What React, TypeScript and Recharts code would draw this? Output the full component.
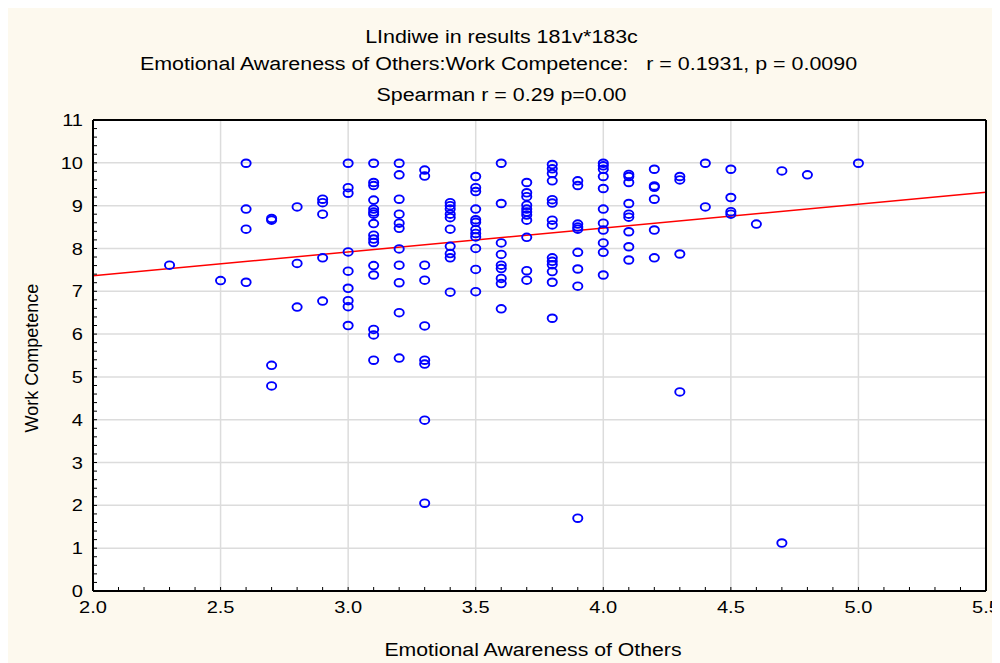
import React from "react";
import { ScatterChart, Scatter, XAxis, YAxis, CartesianGrid, ReferenceLine } from "recharts";

// x values (Emotional Awareness of Others) and the Work Competence scores seen at each
const awarenessLevels = [2.3, 2.5, 2.6, 2.7, 2.8, 2.9, 3.0, 3.1, 3.2, 3.3, 3.4, 3.5, 3.6, 3.7, 3.8, 3.9, 4.0, 4.1, 4.2, 4.3, 4.4, 4.5, 4.6, 4.7, 4.8, 5.0];
const competenceScores = [
  [7.61],
  [7.25],
  [9.99, 8.92, 8.45, 7.21],
  [8.7, 8.66, 5.27, 4.79],
  [8.97, 7.65, 6.63],
  [9.15, 9.07, 8.8, 7.78, 6.77],
  [9.99, 9.42, 9.29, 7.92, 7.47, 7.07, 6.78, 6.64, 6.2],
  [9.99, 9.54, 9.47, 9.13, 8.92, 8.85, 8.8, 8.58, 8.31, 8.22, 8.14, 7.6, 7.38, 6.11, 5.98, 5.39],
  [9.99, 9.72, 9.15, 8.8, 8.59, 8.47, 7.99, 7.61, 7.2, 6.5, 5.44],
  [9.83, 9.69, 7.61, 7.26, 6.19, 5.39, 5.3, 3.99, 2.05],
  [9.07, 9.0, 8.92, 8.8, 8.72, 8.45, 8.05, 7.88, 7.78, 6.98],
  [9.68, 9.42, 9.33, 8.92, 8.67, 8.61, 8.44, 8.35, 8.27, 8.0, 7.51, 6.99],
  [9.99, 9.05, 8.13, 7.86, 7.61, 7.53, 7.3, 7.18, 6.59],
  [9.54, 9.3, 9.21, 9.01, 8.92, 8.85, 8.78, 8.66, 8.26, 7.48, 7.26],
  [9.96, 9.86, 9.75, 9.58, 9.14, 9.06, 8.66, 8.55, 7.78, 7.7, 7.62, 7.46, 7.21, 6.37],
  [9.58, 9.47, 8.57, 8.5, 8.45, 7.91, 7.52, 7.12, 1.7],
  [9.99, 9.93, 9.85, 9.68, 9.4, 8.92, 8.59, 8.43, 8.13, 7.91, 7.38],
  [9.73, 9.68, 9.54, 9.05, 8.8, 8.73, 8.39, 8.04, 7.73],
  [9.85, 9.46, 9.43, 9.15, 8.43, 7.78],
  [9.68, 9.6, 7.87, 4.65],
  [9.99, 8.97],
  [9.85, 9.19, 8.86, 8.8],
  [8.57],
  [9.81, 1.12],
  [9.72],
  [9.99],
];

const xTicks = [2.0, 2.5, 3.0, 3.5, 4.0, 4.5, 5.0, 5.5];
const yTicks = [0, 1, 2, 3, 4, 5, 6, 7, 8, 9, 10, 11];

// linear fit drawn across the whole x range
const fitIntercept = 6.244;
const fitSlope = 0.558;

const points = awarenessLevels.flatMap((x, i) => competenceScores[i].map((y) => ({ x, y })));

// minor tick marks: every 0.1 on x, every 0.2 on y
const minorX: number[] = [];
for (let i = 0; i <= 35; i++) minorX.push(Math.round((2 + i * 0.1) * 10) / 10);
const minorY: number[] = [];
for (let i = 0; i <= 55; i++) minorY.push(Math.round(i * 0.2 * 10) / 10);

const isMajor = (list: number[], v: number) => list.some((t) => Math.abs(t - v) < 1e-6);

const font = "'Liberation Sans', Arial, sans-serif";
const cream = "#fdf9ee";
const gridColor = "#dcdcdc";
const border = { stroke: "#000", strokeWidth: 2 };

const XTickLabel = ({ x, y, payload }: any) => {
  if (!isMajor(xTicks, payload.value)) return <g />;
  return (
    <text transform={`translate(${x},${y}) scale(1.18,1)`} textAnchor="middle" dy="0.71em" fontSize={17} fontFamily={font} fill="#000">
      {payload.value.toFixed(1)}
    </text>
  );
};

const YTickLabel = ({ x, y, payload }: any) => {
  if (!isMajor(yTicks, payload.value)) return <g />;
  return (
    <text transform={`translate(${x},${y}) scale(1.18,1)`} textAnchor="end" dy="0.36em" fontSize={17} fontFamily={font} fill="#000">
      {payload.value}
    </text>
  );
};

const Ring = (p: any) => (
  <ellipse cx={p.cx} cy={p.cy} rx={4.6} ry={3.8} fill="none" stroke="#0000ff" strokeWidth={1.9} />
);

const titleStyle: React.CSSProperties = {
  position: "absolute",
  left: 0,
  width: "100%",
  textAlign: "center",
  fontFamily: font,
  fontSize: 18,
  lineHeight: "18px",
  transform: "scaleX(1.19)",
  color: "#000",
  whiteSpace: "pre",
};

export default function App() {
  return (
    <div style={{ position: "relative", width: 997, height: 655, marginLeft: -5, background: cream }}>
      <style>{".recharts-surface{overflow:visible}"}</style>
      <div style={{ ...titleStyle, top: 20 }}>LIndiwe in results 181v*183c</div>
      <div style={{ ...titleStyle, top: 47, left: -3 }}>Emotional Awareness of Others:Work Competence:   r = 0.1931, p = 0.0090</div>
      <div style={{ ...titleStyle, top: 78 }}>Spearman r = 0.29 p=0.00</div>

      <ScatterChart width={997} height={655} margin={{ top: 111, right: 13, bottom: 22, left: 30 }}>
        <CartesianGrid xAxisId="x" yAxisId="y" horizontal={false} vertical={false} fill="#fff" />
        {xTicks.slice(1, -1).map((v) => (
          <ReferenceLine key={`gx${v}`} xAxisId="x" yAxisId="y" x={v} stroke={gridColor} strokeWidth={1.5} />
        ))}
        {yTicks.slice(1, -1).map((v) => (
          <ReferenceLine key={`gy${v}`} xAxisId="x" yAxisId="y" y={v} stroke={gridColor} strokeWidth={1.5} />
        ))}
        <XAxis xAxisId="x" dataKey="x" type="number" domain={[2, 5.5]} allowDataOverflow ticks={minorX} interval={0}
          tickSize={-4} tickMargin={14} tick={(p: any) => <XTickLabel {...p} />} axisLine={border} tickLine={{ stroke: "#000" }} height={50} />
        <XAxis xAxisId="top" dataKey="x" orientation="top" type="number" domain={[2, 5.5]} allowDataOverflow ticks={minorX} interval={0}
          tickSize={-4} tick={false} axisLine={border} tickLine={{ stroke: "#000" }} height={1} />
        <YAxis yAxisId="y" dataKey="y" type="number" domain={[0, 11]} allowDataOverflow ticks={minorY} interval={0}
          tickSize={-4} tickMargin={14} tick={(p: any) => <YTickLabel {...p} />} axisLine={border} tickLine={{ stroke: "#000" }} width={60} />
        <YAxis yAxisId="right" dataKey="y" orientation="right" type="number" domain={[0, 11]} allowDataOverflow ticks={minorY} interval={0}
          tickSize={-4} tick={false} axisLine={border} tickLine={{ stroke: "#000" }} width={1} />
        {/* frame axes need a series to render; this one draws nothing */}
        <Scatter xAxisId="top" yAxisId="right" data={points} shape={() => <g />} isAnimationActive={false} />
        <Scatter xAxisId="x" yAxisId="y" data={points} shape={Ring} isAnimationActive={false} />
        <ReferenceLine xAxisId="x" yAxisId="y" ifOverflow="visible" stroke="#ff0000" strokeWidth={1.5}
          segment={[{ x: 2, y: fitIntercept + fitSlope * 2 }, { x: 5.5, y: fitIntercept + fitSlope * 5.5 }]} />
      </ScatterChart>

      <div style={{ position: "absolute", left: 330, width: 400, top: 633, textAlign: "center", fontFamily: font, fontSize: 18, lineHeight: "18px", transform: "scaleX(1.18)" }}>
        Emotional Awareness of Others
      </div>
      <div style={{ position: "absolute", left: 29 - 100, width: 200, top: 350 - 9, textAlign: "center", fontFamily: font, fontSize: 18, lineHeight: "18px", transform: "rotate(-90deg)" }}>
        Work Competence
      </div>
    </div>
  );
}
